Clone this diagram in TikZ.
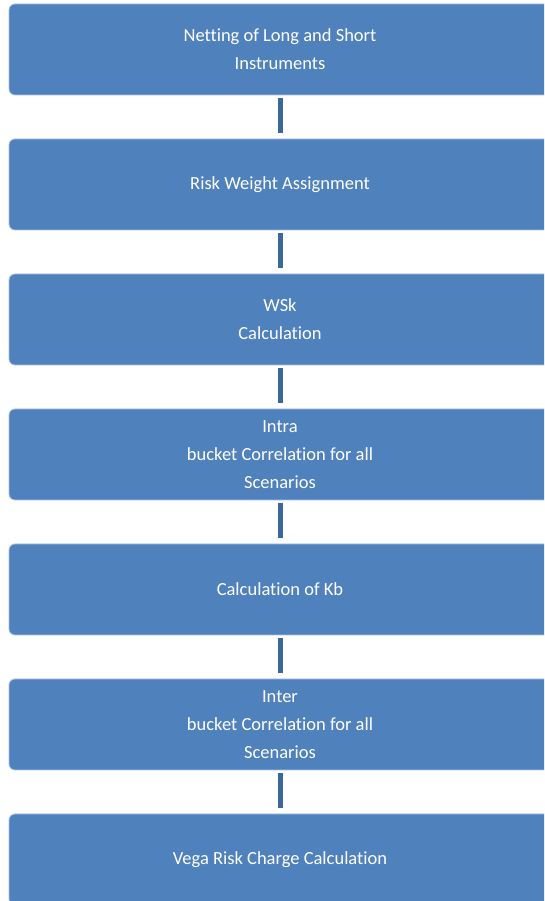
\documentclass[tikz,border=0pt]{standalone}
\usepackage{fontspec}
\setmainfont[Ligatures=NoCommon]{Carlito}
\usetikzlibrary{positioning}
\definecolor{boxblue}{HTML}{4F81BD}
\definecolor{linkblue}{HTML}{3C679B}
\definecolor{edgeblue}{HTML}{A7BFDE}
\tikzset{
  stage/.style={
    rectangle,
    rounded corners=6pt,
    minimum width=542pt,
    minimum height=91pt,
    text centered,
    align=center,
    fill=boxblue,
    draw=edgeblue,
    line width=0.8pt,
    text=white,
    font=\fontsize{18.5}{28}\selectfont
  },
  link/.style={
    draw=linkblue,
    line width=5pt,
    shorten <=3pt,
    shorten >=6pt
  }
}

\begin{document}
\begin{tikzpicture}[node distance=43.2pt]
\useasboundingbox (0,0) rectangle (544pt,901pt);
\clip (0,0) rectangle (544pt,901pt);

% Nodes
\node (netting) [stage] at (280pt,851.5pt) {Netting of Long and Short\\Instruments};
\node (riskweight) [stage, below=of netting] {Risk Weight Assignment};
\node (wsk) [stage, below=of riskweight] {WSk\\Calculation};
\node (intra) [stage, below=of wsk] {Intra\\bucket Correlation for all\\Scenarios};
\node (kb) [stage, below=of intra] {Calculation of Kb};
\node (inter) [stage, below=of kb] {Inter\\bucket Correlation for all\\Scenarios};
\node (vega) [stage, below=of inter] {Vega Risk Charge Calculation};

% Links
\draw [link] (netting) -- (riskweight);
\draw [link] (riskweight) -- (wsk);
\draw [link] (wsk) -- (intra);
\draw [link] (intra) -- (kb);
\draw [link] (kb) -- (inter);
\draw [link] (inter) -- (vega);
\end{tikzpicture}
\end{document}
